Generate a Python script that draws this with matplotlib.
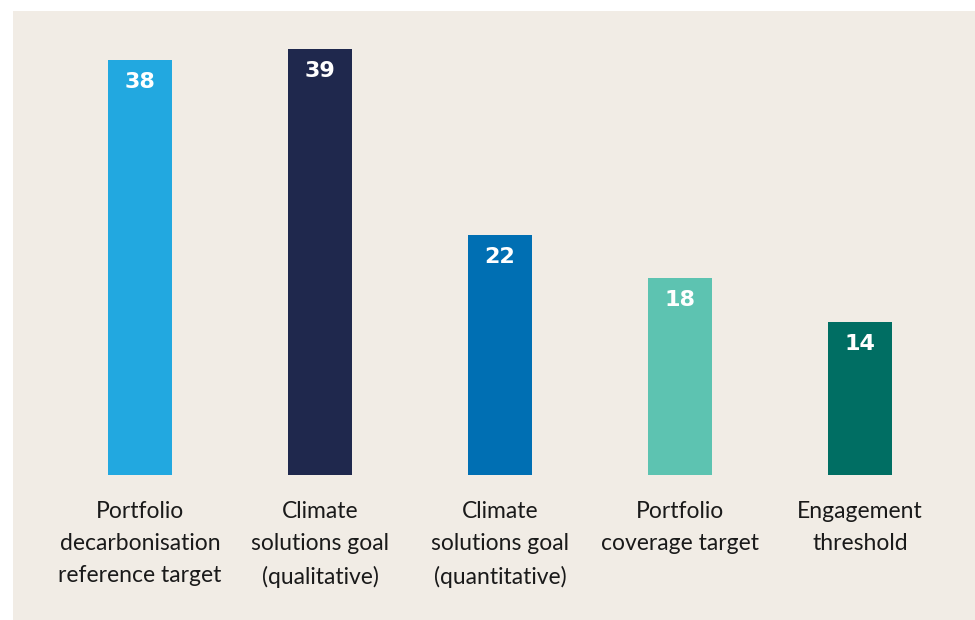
import matplotlib.pyplot as plt
from matplotlib.patches import Rectangle

# ---------------------------------------------------------------------------
# Data
# ---------------------------------------------------------------------------
categories = [
    "Portfolio\ndecarbonisation\nreference target",
    "Climate\nsolutions goal\n(qualitative)",
    "Climate\nsolutions goal\n(quantitative)",
    "Portfolio\ncoverage target",
    "Engagement\nthreshold",
]
values = [38, 39, 22, 18, 14]
colors = ["#22a8e0", "#1f284d", "#006fb3", "#5dc3b1", "#006e63"]

BG = "#f1ece5"
W, H = 975, 620

fig = plt.figure(figsize=(W / 100, H / 100), dpi=100, facecolor="white")

# beige panel (behind everything)
fig.patches.append(Rectangle((13 / W, 0), 1 - 13 / W, 1 - 11 / H,
                             transform=fig.transFigure, facecolor=BG,
                             edgecolor="none", zorder=-1))

# axes: baseline at y=475 px, 10.93 px per unit; bar centres every 180 px from x=140
base_px = 475
px_per_unit = 10.93
ax_bottom = (H - base_px) / H
ax_top_val = (base_px - 11) / px_per_unit
ax = fig.add_axes([0, ax_bottom, 1, (base_px - 11) / H])
ax.set_facecolor("none")
ax.set_xlim(-140 / 180, (W - 140) / 180)
ax.set_ylim(0, ax_top_val)

x = range(len(values))
ax.bar(x, values, width=64 / 180, color=colors, zorder=2)

for xi, v in zip(x, values):
    ax.annotate(str(v), (xi, v), xytext=(0, -22), textcoords="offset pixels",
                ha="center", va="center", color="white", fontsize=16,
                fontweight="bold", family="DejaVu Sans")

for xi, label in zip(x, categories):
    ax.annotate(label, (xi, 0), xytext=(0, -26), textcoords="offset pixels",
                ha="center", va="top", color="#1a1a1a", fontsize=16.5,
                family="Lato", linespacing=1.65, annotation_clip=False)

ax.axis("off")

plt.savefig("out.png", dpi=100, facecolor=fig.get_facecolor())
plt.close()
